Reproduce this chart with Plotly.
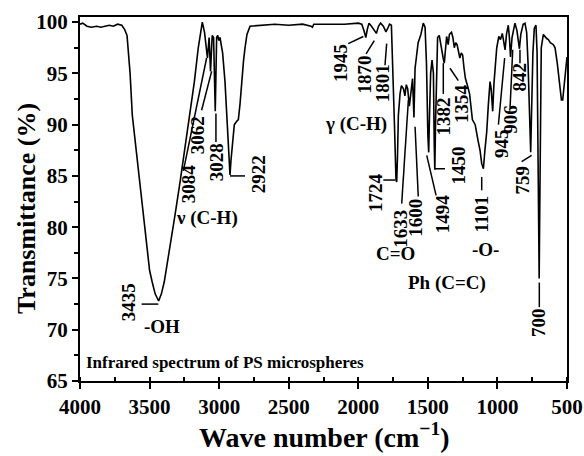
import plotly.graph_objects as go

# Spectrum: wavenumber (cm-1) and transmittance (%)
wavenumber = [4000, 3980, 3950, 3920, 3880, 3850, 3820, 3790, 3760, 3730, 3700, 3680, 3662, 3640,
              3624, 3600, 3569, 3540, 3521, 3500, 3482, 3460, 3435, 3415, 3394, 3353, 3317, 3281,
              3245, 3214, 3178, 3150, 3130, 3121, 3105, 3084, 3072, 3062, 3050, 3040, 3028, 3018,
              3010, 3002, 2994, 2975, 2958, 2940, 2934, 2928, 2922, 2915, 2900, 2891, 2875, 2862,
              2850, 2838, 2825, 2814, 2800, 2778, 2700, 2600, 2500, 2400, 2340, 2330, 2320, 2200,
              2100, 2000, 1975, 1960, 1946, 1935, 1923, 1905, 1890, 1870, 1855, 1840, 1820, 1801,
              1785, 1775, 1762, 1755, 1749, 1740, 1729, 1724, 1718, 1712, 1700, 1690, 1675, 1665,
              1655, 1645, 1633, 1620, 1610, 1600, 1592, 1583, 1570, 1550, 1533, 1520, 1510, 1500,
              1494, 1488, 1480, 1470, 1460, 1454, 1450, 1445, 1438, 1430, 1418, 1400, 1390, 1382,
              1372, 1365, 1354, 1345, 1330, 1320, 1310, 1300, 1290, 1280, 1270, 1260, 1250, 1240,
              1230, 1215, 1200, 1180, 1160, 1140, 1125, 1113, 1101, 1090, 1077, 1065, 1053, 1045,
              1034, 1025, 1015, 1005, 990, 978, 965, 955, 945, 935, 922, 914, 906, 895, 880, 874,
              860, 850, 842, 832, 815, 802, 790, 780, 770, 761, 755, 745, 735, 723, 715, 708, 702,
              700, 697, 692, 685, 670, 660, 646, 634, 620, 598, 586, 570, 555, 540, 531, 520, 510, 500]
transmittance = [99.8, 99.9, 99.6, 99.5, 99.6, 99.5, 99.6, 99.7, 99.6, 99.8, 99.7, 99.3, 98.7, 95.0,
                 90.9, 88.0, 84.4, 80.5, 78.0, 75.8, 74.7, 73.5, 72.8, 73.5, 74.7, 78.0, 81.2, 84.4,
                 87.7, 90.9, 94.2, 97.5, 99.5, 100.0, 99.0, 96.5, 98.5, 95.2, 98.7, 98.5, 91.3, 98.5,
                 98.7, 98.2, 98.5, 97.0, 94.2, 89.5, 88.3, 86.5, 85.1, 86.5, 89.0, 90.0, 90.3, 90.5,
                 92.0, 94.2, 96.2, 97.5, 98.8, 99.6, 99.7, 99.8, 99.7, 99.8, 99.6, 99.5, 99.8, 99.8,
                 99.8, 99.9, 99.8, 99.2, 98.5, 99.3, 99.9, 99.6, 99.3, 98.9, 99.6, 99.9, 99.6, 99.05,
                 99.5, 99.8, 99.7, 97.0, 94.2, 90.0, 84.6, 84.4, 87.0, 90.9, 93.0, 93.8, 93.5, 92.8,
                 93.9, 93.5, 91.8, 93.5, 94.5, 90.7, 95.5, 96.5, 98.0, 98.8, 99.9, 99.5, 96.0, 89.0,
                 87.3, 91.0, 95.0, 96.3, 95.0, 88.0, 85.6, 90.0, 96.0, 98.5, 98.7, 97.0, 96.5, 96.0,
                 97.5, 98.6, 97.8, 98.8, 99.0, 98.5, 97.5, 98.0, 97.8, 97.0, 96.5, 97.0, 96.8, 95.5,
                 94.5, 93.8, 93.0, 90.5, 90.0, 88.5, 87.5, 86.2, 85.7, 87.5, 89.3, 92.0, 94.2, 93.5,
                 91.3, 94.0, 96.0, 97.5, 98.6, 98.3, 98.9, 98.0, 97.3, 98.8, 99.7, 98.5, 96.6, 98.5, 99.6, 99.9,
                 99.2, 98.3, 97.4, 98.8, 99.8, 99.9, 99.0, 96.0, 90.0, 87.3, 91.0, 97.0, 99.4, 99.7, 97.0, 88.0, 76.0,
                 75.0, 80.0, 92.0, 97.5, 98.8, 98.6, 98.4, 98.3, 98.0, 97.8, 97.5, 96.0, 94.0, 92.4, 92.4, 94.0, 95.6, 96.6]

x_tick_values = [4000, 3500, 3000, 2500, 2000, 1500, 1000, 500]
y_tick_values = [65, 70, 75, 80, 85, 90, 95, 100]

# Peak labels (rotated): text and centre position (wavenumber, transmittance)
label_texts = ["3435", "3084", "3062", "3028", "2922", "1945", "1870", "1801", "1724", "1633",
               "1600", "1494", "1450", "1382", "1354", "1101", "945", "906", "842", "759", "700"]
label_x = [3653, 3223, 3150, 3018, 2718, 2128, 1959, 1826, 1876, 1697,
           1587, 1395, 1281, 1391, 1263, 1113, 976, 909, 838, 820, 706]
label_y = [72.7, 84.2, 89.0, 86.3, 85.2, 96.05, 94.9, 94.0, 83.4, 79.9,
           80.9, 81.3, 86.05, 90.8, 92.1, 81.3, 88.2, 90.5, 94.7, 84.6, 70.7]

# Leader lines from labels to bands: (x0, y0, x1, y1)
leader_x0 = [3557, 3257, 3126, 3023, 2922, 2072, 1944, 1808, 1820, 1688, 1569, 1441, 1449, 1389, 1281, 1113, 993, 909, 838, 826, 699]
leader_y0 = [72.5, 85.5, 91.4, 91.1, 85.0, 97.9, 96.9, 95.8, 84.6, 82.3, 83.0, 83.1, 85.7, 93.0, 94.3, 84.9, 90.0, 91.7, 96.0, 86.4, 74.6]
leader_x1 = [3437, 3090, 3054, 3023, 2814, 1964, 1885, 1796, 1736, 1640, 1592, 1508, 1377, 1389, 1341, 1113, 948, 890, 838, 754, 699]
leader_y1 = [72.5, 96.5, 95.2, 88.3, 85.0, 98.6, 98.2, 97.9, 84.6, 92.4, 89.8, 87.0, 85.7, 96.0, 95.5, 83.6, 96.5, 97.3, 97.3, 87.0, 72.2]

group_texts = ["-OH", "ν (C-H)", "γ (C-H)", "C=O", "Ph (C=C)", "-O-"]
group_x = [3413, 3090, 2018, 1736, 1365, 1089]
group_y = [70.3, 80.9, 90.1, 77.4, 74.6, 77.8]

caption = "Infrared spectrum of PS microspheres"
x_title = "Wave number (cm<sup>−1</sup>)"
y_title = "Transmittance (%)"

FONT = "Liberation Serif"

fig = go.Figure()
fig.add_trace(go.Scatter(x=wavenumber, y=transmittance, mode="lines",
                         line=dict(color="black", width=1.6), hoverinfo="skip", showlegend=False))

for t, x, y in zip(label_texts, label_x, label_y):
    fig.add_annotation(x=x, y=y, text=t, textangle=-90, showarrow=False,
                       xanchor="center", yanchor="middle",
                       font=dict(family=FONT, size=19, color="black", weight="bold"))

for x0, y0, x1, y1 in zip(leader_x0, leader_y0, leader_x1, leader_y1):
    fig.add_shape(type="line", x0=x0, y0=y0, x1=x1, y1=y1, xref="x", yref="y",
                  line=dict(color="black", width=1.5))

for t, x, y in zip(group_texts, group_x, group_y):
    fig.add_annotation(x=x, y=y, text=t, showarrow=False, xanchor="center", yanchor="middle",
                       font=dict(family=FONT, size=19, color="black", weight="bold"))

fig.add_annotation(x=0.008, y=66.8, xref="paper", yref="y", text=caption, showarrow=False,
                   xanchor="left", yanchor="middle",
                   font=dict(family=FONT, size=17, color="black", weight="bold"))

# Axis titles as paper-anchored annotations for exact placement
fig.add_annotation(x=0.503, y=-0.15, xref="paper", yref="paper", text=x_title, showarrow=False,
                   xanchor="center", yanchor="middle",
                   font=dict(family=FONT, size=28, color="black", weight="bold"))
fig.add_annotation(x=-0.111, y=0.475, xref="paper", yref="paper", text=y_title, showarrow=False,
                   textangle=-90, xanchor="center", yanchor="middle",
                   font=dict(family=FONT, size=26, color="black", weight="bold"))

axis_common = dict(showline=True, linecolor="black", linewidth=2, mirror=True,
                   showgrid=False, zeroline=False, ticks="outside", ticklen=6, tickwidth=2,
                   tickcolor="black", automargin=False,
                   tickfont=dict(family=FONT, size=21, color="black", weight="bold"))

fig.update_xaxes(range=[4000, 500], tickvals=x_tick_values,
                 minor=dict(dtick=250, ticks="inside", ticklen=4, tickwidth=2, tickcolor="black"),
                 **axis_common)
fig.update_yaxes(range=[65, 100.5], tickvals=y_tick_values,
                 minor=dict(dtick=2.5, ticks="outside", ticklen=4, tickwidth=2, tickcolor="black"),
                 **axis_common)

fig.update_layout(width=584, height=456, margin=dict(l=80, r=17, t=17, b=75),
                  paper_bgcolor="white", plot_bgcolor="white",
                  font=dict(family=FONT, color="black"))

fig.write_html("out.html", config={"displayModeBar": False},
               post_script="document.body.style.margin='0px';document.body.style.overflow='hidden';")
